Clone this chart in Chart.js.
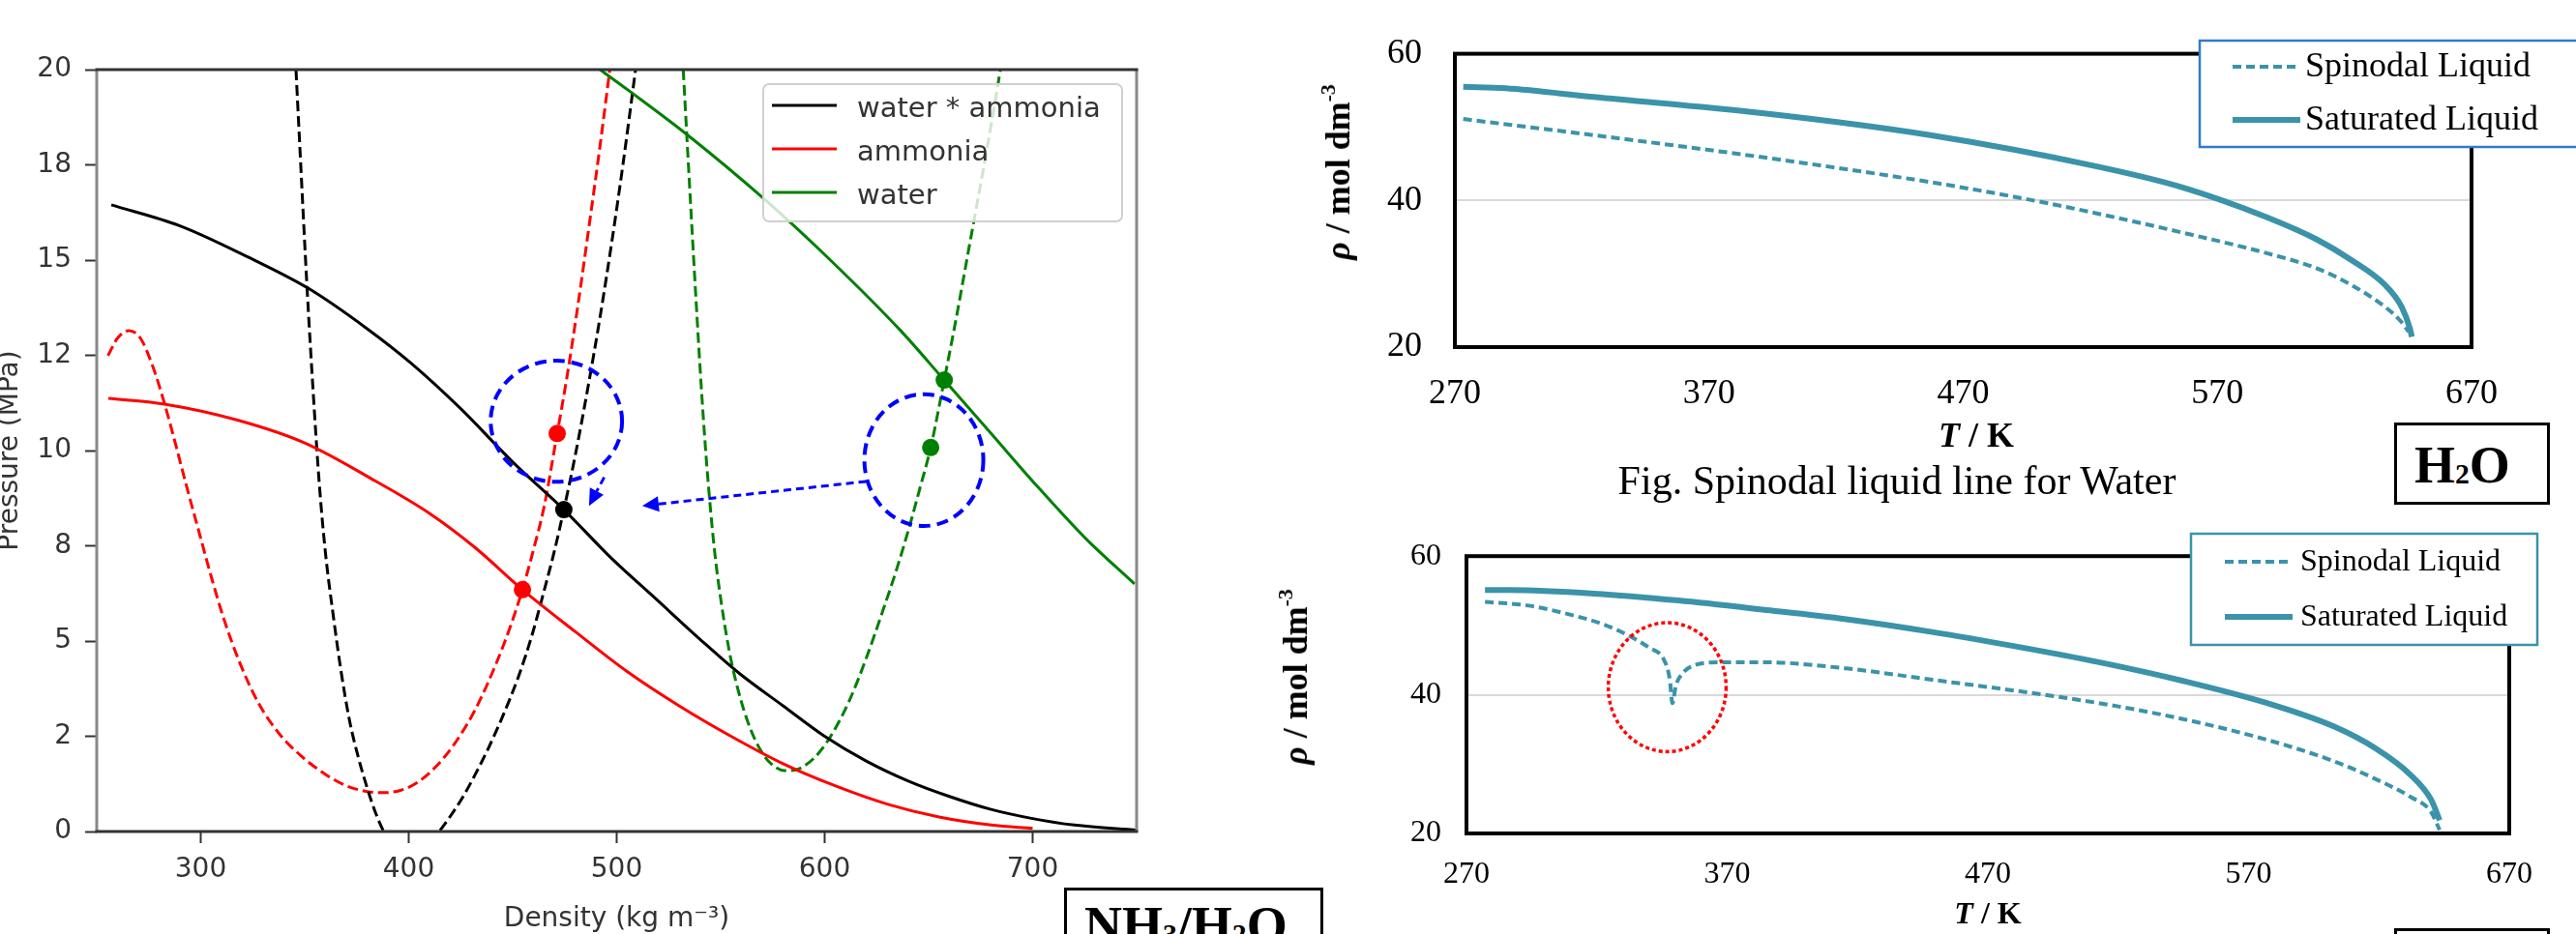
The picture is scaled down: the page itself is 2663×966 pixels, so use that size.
<!DOCTYPE html>
<html><head><meta charset="utf-8">
<script src="https://cdn.jsdelivr.net/npm/chart.js@4.4.1/dist/chart.umd.min.js"></script>
<style>
html,body{margin:0;padding:0;background:#fff;}
body{width:2663px;height:966px;overflow:hidden;position:relative;}
.wrap{position:absolute;}
.lbl{position:absolute;white-space:nowrap;font-family:'Liberation Serif','Times New Roman',serif;color:#000;transform:translate(-50%,-50%);line-height:1;}
.rot{transform:translate(-50%,-50%) rotate(-90deg);}
.box{position:absolute;border:3px solid #000;box-sizing:border-box;background:#fff;overflow:hidden;}
.boxtxt{position:absolute;font-family:'Liberation Serif','Times New Roman',serif;font-weight:bold;font-size:54px;line-height:1;white-space:nowrap;}
.boxtxt sub{font-size:0.55em;vertical-align:baseline;position:relative;top:0.05em;}
sup{font-size:0.6em;vertical-align:baseline;position:relative;top:-0.7em;}
</style></head>
<body>
<div class="wrap" style="left:0;top:0;width:1200px;height:966px"><canvas id="c1"></canvas></div>
<div class="wrap" style="left:1300px;top:0;width:1363px;height:530px"><canvas id="c2"></canvas></div>
<div class="wrap" style="left:1300px;top:530px;width:1363px;height:436px"><canvas id="c3"></canvas></div>

<div class="lbl rot" style="left:1383px;top:178px;font-size:36px;font-weight:bold"><i>ρ</i> / mol dm<sup>-3</sup></div>
<div class="lbl" style="left:2043px;top:450px;font-size:36px;font-weight:bold"><i>T</i> / K</div>
<div class="lbl" style="left:1961px;top:497px;font-size:42px">Fig. Spinodal liquid line for Water</div>
<div class="lbl rot" style="left:1339px;top:700px;font-size:36px;font-weight:bold"><i>ρ</i> / mol dm<sup>-3</sup></div>
<div class="lbl" style="left:2055px;top:944px;font-size:32px;font-weight:bold"><i>T</i> / K</div>

<div class="box" style="left:2475px;top:437px;width:161px;height:85px"><div class="boxtxt" style="left:18px;top:14px">H<sub>2</sub>O</div></div>
<div class="box" style="left:1100px;top:918px;width:268px;height:80px"><div class="boxtxt" style="left:18px;top:9px">NH<sub>3</sub>/H<sub>2</sub>O</div></div>
<div class="box" style="left:2475px;top:960px;width:161px;height:60px"></div>

<script>
// ---------------- LEFT PANEL: Pressure (MPa) vs Density (kg m^-3) ----------------
const densityTicks = [300, 400, 500, 600, 700];
const pressureTicks = [0, 2.5, 5, 7.5, 10, 12.5, 15, 17.5, 20];
const pressureTickLabels = ['0', '2', '5', '8', '10', '12', '15', '18', '20'];

// solid curves
const mixtureSolid = [[257,16.45],[290,15.9],[322,15.1],[352,14.25],[380,13.2],[401,12.3],[425,11.1],[450,9.7],[474.6,8.45],[497,7.2],[519,6.1],[540,5.05],[559,4.15],[580,3.3],[600,2.5],[620,1.85],[640,1.33],[660,0.92],[680,0.58],[700,0.34],[720,0.17],[750,0.04]];
const ammoniaSolid = [[255.6,11.37],[282.5,11.22],[317.7,10.8],[350,10.2],[384,9.2],[410,8.35],[432,7.45],[454.7,6.35],[480,5.25],[505,4.2],[530,3.3],[555,2.5],[580,1.78],[605,1.2],[630,0.72],[655,0.38],[680,0.17],[700,0.08]];
const waterSolid = [[492,20],[505.8,19.45],[533.7,18.3],[571,16.6],[603.7,14.95],[636.5,13.15],[657.5,11.85],[680,10.45],[701.6,9.1],[725,7.72],[749,6.5]];
// dashed curves
const mixtureDashed = [[345.8,20],[348,17.6],[351,14.4],[354,11.6],[357,9.14],[360,7.3],[363.5,5.76],[367.5,4.2],[371.6,2.9],[376,1.9],[380,1.15],[384,0.5],[388,0.0],[394,-0.5],[401,-0.7],[408,-0.45],[414,-0.05],[420,0.4],[426,0.9],[432,1.5],[438,2.15],[445,3.0],[453,4.1],[459,5.1],[465,6.3],[470,7.35],[474.6,8.45],[480,9.85],[486,11.6],[492,13.5],[498,15.6],[503,17.5],[508.6,19.8],[511,20.8]];
const ammoniaDashed = [[255.4,12.49],[260,12.95],[265.4,13.15],[271,12.95],[277,12.2],[282.5,11.25],[288,10.15],[293,9.1],[299,7.9],[305,6.7],[311,5.6],[319,4.4],[328,3.35],[338,2.55],[349,1.95],[360,1.5],[370,1.2],[380,1.05],[388,1.02],[396,1.08],[404,1.28],[413,1.7],[422,2.3],[432,3.2],[442,4.4],[449,5.4],[454.7,6.35],[460,7.4],[465,8.5],[471.4,10.45],[476,11.9],[481.6,13.9],[487,16.0],[492,18.0],[497.4,20.3]];
const waterDashed = [[532,20],[535,17],[538,14.1],[541,11.4],[543.5,9.5],[547,7.4],[551,5.75],[555,4.5],[560,3.4],[565,2.6],[571,1.98],[576,1.7],[580.7,1.6],[586,1.62],[591,1.75],[597,2.05],[604,2.6],[612,3.45],[620,4.55],[628,5.8],[635,6.95],[641,8.05],[646,9.05],[651,10.08],[657.5,11.85],[663,13.4],[669,15.2],[677,17.6],[683,19.5],[686,20.5]];
// marked states
const mixturePoints = [[474.6,8.45]];
const ammoniaPoints = [[471.4,10.45],[454.7,6.35]];
const waterPoints = [[651,10.08],[657.5,11.85]];
// annotations (data units): centre x, centre y, radius x, radius y
const highlightCircles = [[471,10.77,31.6,1.59],[647.7,9.75,28.6,1.73]];
// arrows (data units): from x, from y, to x, to y
const highlightArrows = [[494,9.3,486.7,8.55],[620,9.19,512.3,8.55]];

// ---------------- RIGHT PANELS: rho (mol dm^-3) vs T (K) ----------------
const tempTicks = [270, 370, 470, 570, 670];
const rhoTicks = [20, 40, 60];
const waterSaturated = [[273.3,55.5],[290,55.3],[324.6,54.1],[390.9,51.9],[457,48.9],[523,44.6],[556,41.8],[589.5,37.7],[609,34.7],[622.6,31.9],[635.9,28.5],[642.5,25.5],[645.8,22.5],[646.5,21.4]];
const waterSpinodal = [[273.3,51.1],[324.6,48.9],[390.9,45.9],[457,42.5],[490,40.5],[523,38.2],[556.4,35.6],[589.5,32.8],[609.4,30.7],[622.6,28.5],[635.9,25.5],[642.5,23.4],[645.2,22.1]];
const mixSaturated = [[277.1,55.1],[286.8,55.1],[319,54.6],[351.3,53.6],[383.6,52.3],[415.8,50.9],[448,49.1],[480.3,47.0],[512.6,44.7],[544.9,42.0],[577.1,38.8],[602.9,35.4],[619,32.2],[632,28.5],[640,24.9],[643.3,21.9]];
const mixSpinodal = [[277.1,53.4],[293.2,52.9],[309.4,51.6],[322.3,50.2],[331.9,48.6],[340,46.8],[345.8,45.0],[348,42.2],[349,38.8],[350.3,41.3],[352.9,43.1],[357.7,44.3],[367.4,44.7],[383.6,44.7],[415.8,43.8],[448,42.2],[480.3,40.6],[512.6,38.8],[544.9,36.5],[577.1,33.5],[602.9,30.4],[619,27.8],[632,25.3],[640,23.1],[643.3,20.5]];
// anomaly ellipse (data units): centre T, centre rho, radius T, radius rho
const anomalyEllipse = [347, 41.1, 22.6, 9.3];

const toXY = arr => arr.map(([x, y]) => ({x, y}));

// ---------------- plugins ----------------
const leftDeco = {
  id: 'leftDeco',
  afterDatasetsDraw(chart, args, o) {
    const {ctx, chartArea: a, scales: {x, y}} = chart;
    ctx.save();
    ctx.lineCap = 'butt';
    ctx.strokeStyle = '#888'; ctx.lineWidth = 3;
    ctx.beginPath(); ctx.moveTo(a.left, a.top); ctx.lineTo(a.left, a.bottom); ctx.moveTo(a.right, a.top); ctx.lineTo(a.right, a.bottom); ctx.stroke();
    ctx.strokeStyle = '#333';
    ctx.beginPath(); ctx.moveTo(a.left - 1.5, a.top); ctx.lineTo(a.right + 1.5, a.top); ctx.moveTo(a.left - 1.5, a.bottom); ctx.lineTo(a.right + 1.5, a.bottom); ctx.stroke();
    ctx.strokeStyle = '#0000ff'; ctx.fillStyle = '#0000ff';
    ctx.lineWidth = 4; ctx.setLineDash([12, 7]);
    highlightCircles.forEach(([cx, cy, rx, ry]) => {
      const px = x.getPixelForValue(cx), py = y.getPixelForValue(cy);
      const prx = x.getPixelForValue(cx + rx) - px, pry = py - y.getPixelForValue(cy + ry);
      ctx.beginPath(); ctx.ellipse(px, py, prx, pry, 0, 0, Math.PI * 2); ctx.stroke();
    });
    ctx.lineWidth = 3; ctx.setLineDash([8, 5]);
    highlightArrows.forEach(([x0, y0, x1, y1]) => {
      const p0x = x.getPixelForValue(x0), p0y = y.getPixelForValue(y0);
      const p1x = x.getPixelForValue(x1), p1y = y.getPixelForValue(y1);
      const ang = Math.atan2(p1y - p0y, p1x - p0x);
      const hl = 17, hw = 8;
      const bx = p1x - hl * Math.cos(ang), by = p1y - hl * Math.sin(ang);
      ctx.beginPath(); ctx.moveTo(p0x, p0y); ctx.lineTo(bx, by); ctx.stroke();
      ctx.beginPath();
      ctx.moveTo(p1x, p1y);
      ctx.lineTo(bx + hw * Math.sin(ang), by - hw * Math.cos(ang));
      ctx.lineTo(bx - hw * Math.sin(ang), by + hw * Math.cos(ang));
      ctx.closePath(); ctx.fill();
    });
    ctx.setLineDash([]);
    const L = o.legend;
    ctx.fillStyle = 'rgba(255,255,255,0.8)';
    ctx.strokeStyle = '#d0d0d0'; ctx.lineWidth = 2;
    ctx.beginPath(); ctx.roundRect(L.x, L.y, L.w, L.h, 6); ctx.fill(); ctx.stroke();
    const items = chart.data.datasets.filter(d => d.inLegend);
    ctx.font = L.font; ctx.textBaseline = 'middle'; ctx.textAlign = 'left';
    items.forEach((d, i) => {
      const ry = L.y + L.first + i * L.step;
      ctx.strokeStyle = d.borderColor; ctx.lineWidth = d.borderWidth;
      ctx.beginPath(); ctx.moveTo(L.x0, ry); ctx.lineTo(L.x1, ry); ctx.stroke();
      ctx.fillStyle = '#333';
      ctx.fillText(d.label, L.tx, ry + 4);
    });
    ctx.restore();
  }
};

const rightDeco = {
  id: 'rightDeco',
  beforeDatasetsDraw(chart) {
    const {ctx, chartArea: a} = chart;
    ctx.save();
    ctx.strokeStyle = '#000'; ctx.lineWidth = 4;
    ctx.strokeRect(a.left, a.top, a.right - a.left, a.bottom - a.top);
    ctx.restore();
  },
  afterDatasetsDraw(chart, args, o) {
    const {ctx, scales: {x, y}} = chart;
    ctx.save();
    if (o.ellipse) {
      const [cx, cy, rx, ry] = o.ellipse;
      const px = x.getPixelForValue(cx), py = y.getPixelForValue(cy);
      const prx = x.getPixelForValue(cx + rx) - px, pry = py - y.getPixelForValue(cy + ry);
      ctx.strokeStyle = '#ff0000'; ctx.lineWidth = 3.5; ctx.setLineDash([4, 3]);
      ctx.beginPath(); ctx.ellipse(px, py, prx, pry, 0, 0, Math.PI * 2); ctx.stroke();
      ctx.setLineDash([]);
    }
    const L = o.legend;
    ctx.fillStyle = '#fff'; ctx.strokeStyle = L.border; ctx.lineWidth = 2.5;
    ctx.fillRect(L.x, L.y, L.w, L.h); ctx.strokeRect(L.x, L.y, L.w, L.h);
    ctx.font = L.font; ctx.textBaseline = 'middle'; ctx.textAlign = 'left'; ctx.fillStyle = '#000';
    chart.data.datasets.forEach((d, i) => {
      const ry = L.rows[i];
      ctx.strokeStyle = d.borderColor; ctx.lineWidth = d.borderWidth;
      ctx.setLineDash(d.borderDash || []);
      ctx.beginPath(); ctx.moveTo(L.x0, ry); ctx.lineTo(L.x1, ry); ctx.stroke();
      ctx.setLineDash([]);
      ctx.fillText(d.label, L.tx, ry + 1);
    });
    ctx.restore();
  }
};

// ---------------- LEFT CHART ----------------
const lineDs = (label, data, color, dashed, inLegend) => ({
  label, data: toXY(data), borderColor: color, backgroundColor: color,
  borderWidth: 3, borderDash: dashed ? [11, 5] : [], pointRadius: 0,
  cubicInterpolationMode: 'monotone', fill: false, inLegend
});
const pointDs = (label, data, color) => ({
  label, data: toXY(data), showLine: false, pointRadius: 9, pointHoverRadius: 9,
  pointBackgroundColor: color, pointBorderColor: color, pointBorderWidth: 0, borderColor: color
});

new Chart(document.getElementById('c1'), {
  type: 'line',
  data: {datasets: [
    pointDs('water * ammonia point', mixturePoints, '#000000'),
    pointDs('ammonia points', ammoniaPoints, '#ff0000'),
    pointDs('water points', waterPoints, '#008000'),
    lineDs('water * ammonia', mixtureSolid, '#000000', false, true),
    lineDs('ammonia', ammoniaSolid, '#ff0000', false, true),
    lineDs('water', waterSolid, '#008000', false, true),
    lineDs('water * ammonia spinodal', mixtureDashed, '#000000', true, false),
    lineDs('ammonia spinodal', ammoniaDashed, '#ff0000', true, false),
    lineDs('water spinodal', waterDashed, '#008000', true, false)
  ]},
  options: {
    responsive: true, maintainAspectRatio: false, animation: false, events: [],
    layout: {padding: {top: 72, right: 25, left: 0, bottom: 0}},
    plugins: {
      legend: {display: false}, tooltip: {enabled: false},
      leftDeco: {legend: {x: 789, y: 87, w: 371, h: 142, first: 22, step: 45, x0: 798, x1: 865, tx: 886, font: '29px "DejaVu Sans"'}}
    },
    scales: {
      x: {
        type: 'linear', min: 250, max: 750,
        afterBuildTicks: s => { s.ticks = densityTicks.map(v => ({value: v})); },
        afterFit: s => { s.height = 106; },
        grid: {display: true, drawOnChartArea: false, drawTicks: true, tickLength: 12, tickColor: '#333', tickWidth: 2, color: '#333'},
        border: {display: false},
        ticks: {font: {family: 'DejaVu Sans', size: 28}, color: '#333', padding: 11, maxRotation: 0, autoSkip: false},
        title: {display: true, text: 'Density (kg m⁻³)', font: {family: 'DejaVu Sans', size: 28}, color: '#333', padding: {top: 0, bottom: -2}}
      },
      y: {
        type: 'linear', min: 0, max: 20,
        afterBuildTicks: s => { s.ticks = pressureTicks.map(v => ({value: v})); },
        afterFit: s => { s.width = 100; },
        grid: {display: true, drawOnChartArea: false, drawTicks: true, tickLength: 12, tickColor: '#333', tickWidth: 2, color: '#333'},
        border: {display: false},
        ticks: {font: {family: 'DejaVu Sans', size: 28}, color: '#333', padding: 14, autoSkip: false,
                callback: (v, i) => pressureTickLabels[i]},
        title: {display: true, text: 'Pressure (MPa)', font: {family: 'DejaVu Sans', size: 28}, color: '#333', padding: {top: -6, bottom: 0}}
      }
    }
  },
  plugins: [leftDeco]
});

// ---------------- RIGHT CHARTS ----------------
const teal = '#3b93a9';
function rightChart(id, sat, spin, o) {
  return new Chart(document.getElementById(id), {
    type: 'line',
    data: {datasets: [
      {label: 'Spinodal Liquid', data: toXY(spin), borderColor: teal, borderWidth: 4, borderDash: [9, 5], pointRadius: 0, cubicInterpolationMode: 'monotone', fill: false},
      {label: 'Saturated Liquid', data: toXY(sat), borderColor: teal, borderWidth: 6, pointRadius: 0, cubicInterpolationMode: 'monotone', fill: false}
    ]},
    options: {
      responsive: true, maintainAspectRatio: false, animation: false, events: [],
      layout: {padding: {top: o.top, right: o.right, left: 0, bottom: 0}},
      plugins: {legend: {display: false}, tooltip: {enabled: false}, rightDeco: o.deco},
      scales: {
        x: {
          type: 'linear', min: 270, max: 670,
          afterBuildTicks: s => { s.ticks = tempTicks.map(v => ({value: v})); },
          afterFit: s => { s.height = o.xh; },
          grid: {display: false, drawTicks: false}, border: {display: false},
          ticks: {font: {family: 'Liberation Serif', size: o.fs}, color: '#000', padding: o.xpad, maxRotation: 0, autoSkip: false}
        },
        y: {
          type: 'linear', min: 20, max: 60,
          afterBuildTicks: s => { s.ticks = rhoTicks.map(v => ({value: v})); },
          afterFit: s => { s.width = o.yw; },
          grid: {color: '#d9d9d9', lineWidth: 2, drawTicks: false}, border: {display: false},
          ticks: {font: {family: 'Liberation Serif', size: o.fs}, color: '#000', padding: o.ypad, autoSkip: false}
        }
      }
    },
    plugins: [rightDeco]
  });
}

rightChart('c2', waterSaturated, waterSpinodal, {
  top: 49, right: 108, xh: 171, yw: 204, fs: 36, xpad: 27, ypad: 34,
  deco: {legend: {x: 974, y: 42, w: 500, h: 110, border: '#2e7bcf', rows: [69, 124], x0: 1008, x1: 1078, tx: 1083, font: '36px "Liberation Serif"'}}
});
rightChart('c3', mixSaturated, mixSpinodal, {
  top: 40, right: 69, xh: 104, yw: 216, fs: 32, xpad: 23, ypad: 26,
  deco: {ellipse: anomalyEllipse,
         legend: {x: 965, y: 22, w: 358, h: 115, border: teal, rows: [51, 108], x0: 1000, x1: 1070, tx: 1078, font: '32px "Liberation Serif"'}}
});
</script>
</body></html>
